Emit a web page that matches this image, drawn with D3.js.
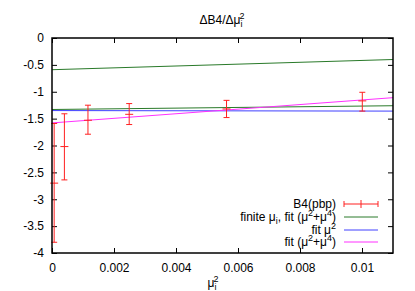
<!DOCTYPE html>
<html>
<head>
<meta charset="utf-8">
<script src="https://cdn.jsdelivr.net/npm/d3@7"></script>
<style>
  body { margin: 0; background: #fff; }
  text { font-family: "Liberation Sans", Arial, sans-serif; font-size: 12px; fill: #000; }
</style>
</head>
<body>
<svg id="chart" width="415" height="291"></svg>
<script>
// data
const pointsX = [0.00007, 0.0004, 0.00116, 0.00249, 0.00563, 0.01001]
const pointsY = [-2.70, -2.02, -1.53, -1.42, -1.32, -1.17]
const pointsLo = [-3.80, -2.64, -1.79, -1.61, -1.48, -1.36]
const pointsHi = [-1.59, -1.41, -1.25, -1.22, -1.16, -1.01]

// fit lines, value at x = 0 and at x = 0.011
const fitEnds = [0, 0.011]
const finiteUpper = [-0.59, -0.40]
const finiteLower = [-1.33, -1.26]
const fitMu2 = [-1.35, -1.36]
const fitMu24 = [-1.58, -1.11]

const xTicks = [0, 0.002, 0.004, 0.006, 0.008, 0.01]
const yTicks = [0, -0.5, -1, -1.5, -2, -2.5, -3, -3.5, -4]

const colors = { data: '#ff2020', finite: '#2a7a2a', mu2: '#4040ff', mu24: '#ff30ff' }

const svg = d3.select('#chart')
const margin = { left: 52, right: 22, top: 38, bottom: 38 }
const width = 415 - margin.left - margin.right
const height = 291 - margin.top - margin.bottom

const x = d3.scaleLinear().domain([0, 0.011]).range([margin.left, margin.left + width])
const y = d3.scaleLinear().domain([-4, 0]).range([margin.top + height, margin.top])

const fmtX = d => d === 0 ? '0' : String(+d.toFixed(3))

// axes, gnuplot style: ticks inward on all four sides
const axisB = d3.axisBottom(x).tickValues(xTicks).tickSizeInner(-5).tickSizeOuter(0).tickPadding(10).tickFormat(fmtX)
const axisT = d3.axisTop(x).tickValues(xTicks).tickSizeInner(-5).tickSizeOuter(0).tickFormat('')
const axisL = d3.axisLeft(y).tickValues(yTicks).tickSizeInner(-5).tickSizeOuter(0).tickPadding(8).tickFormat(d => d === 0 ? '0' : String(d))
const axisR = d3.axisRight(y).tickValues(yTicks).tickSizeInner(-5).tickSizeOuter(0).tickFormat('')

function styleAxis (g) {
  g.select('.domain').remove()
  g.selectAll('.tick line').attr('stroke', '#000').attr('stroke-width', 1)
  g.selectAll('.tick text').style('font-size', '12px').attr('fill', '#000')
}

svg.append('g').attr('transform', `translate(0,${margin.top + height})`).call(axisB).call(styleAxis)
svg.append('g').attr('transform', `translate(0,${margin.top})`).call(axisT).call(styleAxis)
svg.append('g').attr('transform', `translate(${margin.left},0)`).call(axisL).call(styleAxis)
svg.append('g').attr('transform', `translate(${margin.left + width},0)`).call(axisR).call(styleAxis)

// fit lines
const line = d3.line().x((d, i) => x(fitEnds[i])).y(d => y(d))
const plot = svg.append('g')
;[[finiteUpper, colors.finite], [finiteLower, colors.finite], [fitMu2, colors.mu2], [fitMu24, colors.mu24]].forEach(([vals, c]) => {
  plot.append('path').attr('d', line(vals)).attr('fill', 'none').attr('stroke', c).attr('stroke-width', 1)
})

// error bars
const eb = plot.append('g').attr('stroke', colors.data).attr('stroke-width', 1)
pointsX.forEach((px, i) => {
  const cx = x(px)
  eb.append('line').attr('x1', cx).attr('x2', cx).attr('y1', y(pointsLo[i])).attr('y2', y(pointsHi[i]))
  eb.append('line').attr('x1', cx - 3).attr('x2', cx + 3).attr('y1', y(pointsLo[i])).attr('y2', y(pointsLo[i]))
  eb.append('line').attr('x1', cx - 3).attr('x2', cx + 3).attr('y1', y(pointsHi[i])).attr('y2', y(pointsHi[i]))
  eb.append('line').attr('x1', cx - 4).attr('x2', cx + 4).attr('y1', y(pointsY[i])).attr('y2', y(pointsY[i]))
})

// frame
svg.append('rect').attr('x', margin.left).attr('y', margin.top).attr('width', width).attr('height', height)
  .attr('fill', 'none').attr('stroke', '#000').attr('stroke-width', 1.5)

// enhanced text helper: parts of [text, 'sub'|'sup'|'back', dy, dx]
function richText (g, parts, anchorX, anchorY, anchor) {
  const t = g.append('text').attr('x', anchorX).attr('y', anchorY).attr('text-anchor', anchor)
  parts.forEach(p => {
    const s = t.append('tspan').text(p[0])
    if (p[1] === 'sub') s.attr('dy', 3).style('font-size', '9px')
    else if (p[1] === 'sup') s.attr('dy', p[2] ? -8 : -5).style('font-size', '9px')
    else if (p[1] === 'back') s.attr('dy', p[2])
    if (p[3]) s.attr('dx', p[3])
  })
  return t
}

// title
richText(svg, [['ΔB4/Δμ'], ['i', 'sub'], ['2', 'sup', true, -3], ['', 'back', 5]], 222, 24, 'middle')
// x label
richText(svg, [['μ'], ['i', 'sub'], ['2', 'sup', true, -3]], 213, 287, 'middle')

// legend
const legendLabels = ['B4(pbp)', 'finite μi, fit (μ²+μ⁴)', 'fit μ²', 'fit (μ²+μ⁴)']
const legendColors = [colors.data, colors.finite, colors.mu2, colors.mu24]
const lg = svg.append('g')
const rowY = [204, 217, 230, 242]
const lx1 = 344, lx2 = 378
rowY.forEach((ry, i) => {
  lg.append('line').attr('x1', lx1).attr('x2', lx2).attr('y1', ry).attr('y2', ry).attr('stroke', legendColors[i]).attr('stroke-width', 1)
  if (i === 0) {
    ;[lx1, lx2].forEach(ex => lg.append('line').attr('x1', ex).attr('x2', ex).attr('y1', ry - 3).attr('y2', ry + 3).attr('stroke', legendColors[i]))
    lg.append('line').attr('x1', (lx1 + lx2) / 2).attr('x2', (lx1 + lx2) / 2).attr('y1', ry - 4).attr('y2', ry + 4).attr('stroke', legendColors[i])
  }
})
const tx = 336
richText(lg, [[legendLabels[0]]], tx, rowY[0] + 4, 'end')
richText(lg, [['finite μ'], ['i', 'sub'], [', fit (μ', 'back', -3], ['2', 'sup'], ['+μ', 'back', 5], ['4', 'sup'], [')', 'back', 5]], tx, rowY[1] + 4, 'end')
richText(lg, [['fit μ'], ['2', 'sup']], tx, rowY[2] + 4, 'end')
richText(lg, [['fit (μ'], ['2', 'sup'], ['+μ', 'back', 5], ['4', 'sup'], [')', 'back', 5]], tx, rowY[3] + 4, 'end')
</script>
</body>
</html>
